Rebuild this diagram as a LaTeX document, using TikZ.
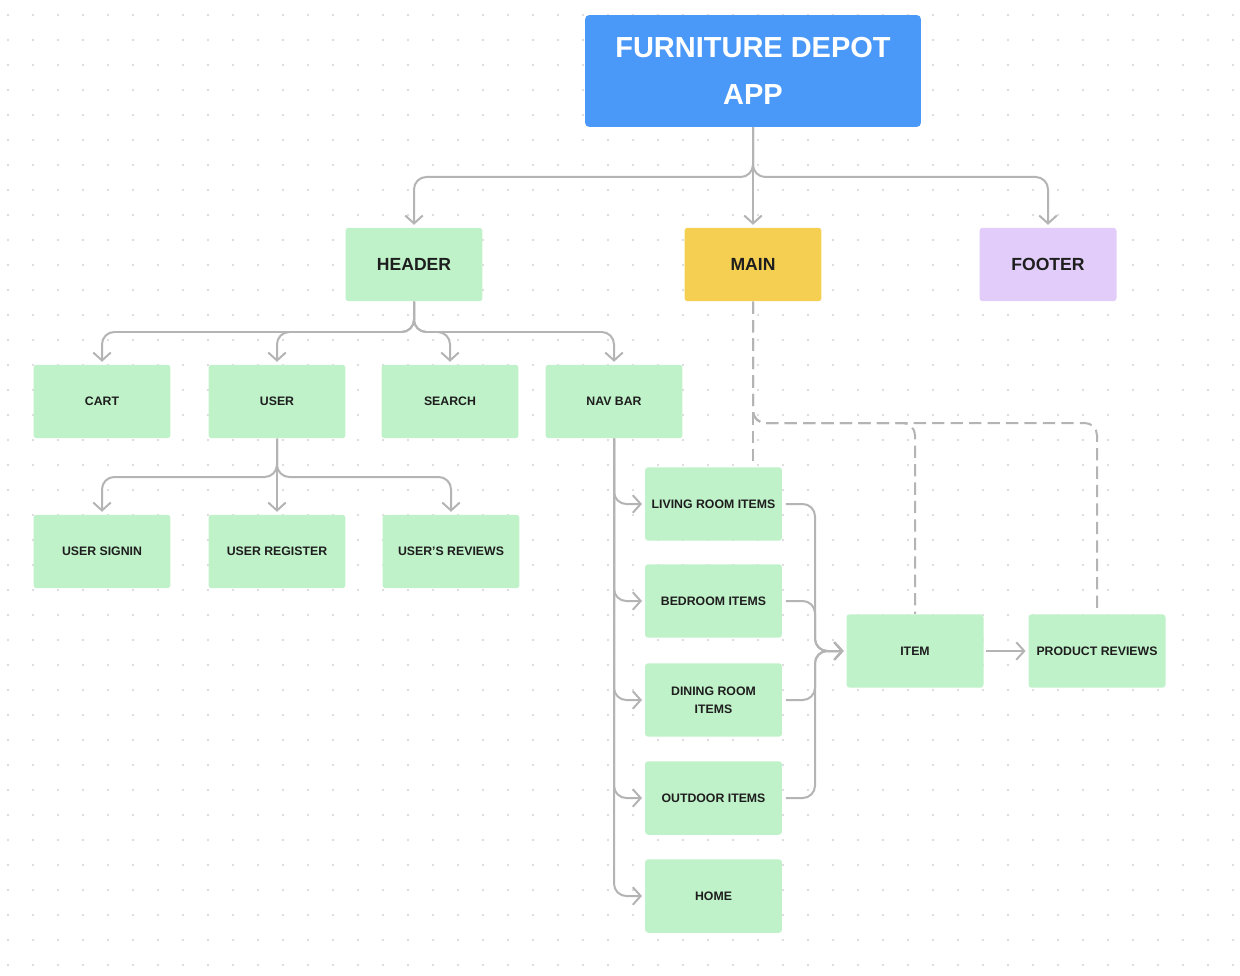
\documentclass[tikz,border=0pt]{standalone}
\usepackage{fontspec}
\setmainfont{Liberation Sans}
\usetikzlibrary{positioning}
\usetikzlibrary{arrows.meta}
\definecolor{appblue}{RGB}{74,152,247}
\definecolor{leaf}{RGB}{192,242,201}
\definecolor{sun}{RGB}{245,207,82}
\definecolor{lilac}{RGB}{226,205,250}
\definecolor{wire}{RGB}{180,180,180}
\definecolor{griddot}{RGB}{210,210,210}
\definecolor{ink}{RGB}{30,30,30}
\tikzset{
  box/.style={rectangle, rounded corners=1.8pt, fill=leaf, text=ink,
    minimum width=2.74cm, minimum height=1.47cm, inner sep=1pt, align=center,
    font=\bfseries\fontsize{7}{10.2}\selectfont},
  bigbox/.style={box, font=\bfseries\fontsize{10}{12}\selectfont},
  conn/.style={draw=wire, line width=0.04cm, rounded corners=7pt,
    -{Straight Barb[length=4.5pt,width=10pt]}, shorten >=1.5pt},
  dconn/.style={draw=wire, line width=0.04cm, rounded corners=7pt,
    dash pattern=on 7pt off 3.5pt},
}
\begin{document}
\begin{tikzpicture}[x=0.02cm,y=-0.02cm]
        %Background + dots
        \fill[white] (0,0) rectangle (1240,976);
        \useasboundingbox (0,0) rectangle (1240,976);
        \foreach \i in {0,...,49} \foreach \j in {0,...,38} \fill[griddot] (8+25*\i,15+25*\j) circle (0.6pt);
        %Boxes
        \node[box, fill=appblue, text=white, rounded corners=2.5pt, minimum width=6.72cm, minimum height=2.24cm,
          font=\bfseries\fontsize{16.5}{26.7}\selectfont] (app) at (753,71) {FURNITURE DEPOT\\APP};
        \node[bigbox] (header) at (414,264.5) {HEADER};
        \node[bigbox, fill=sun] (main) at (753,264.5) {MAIN};
        \node[bigbox, fill=lilac] (footer) at (1048,264.5) {FOOTER};
        \node[box] (cart) at (102,401.5) {CART};
        \node[box] (user) at (277,401.5) {USER};
        \node[box] (search) at (450,401.5) {SEARCH};
        \node[box] (navbar) at (614,401.5) {NAV BAR};
        \node[box] (signin) at (102,551.5) {USER SIGNIN};
        \node[box] (register) at (277,551.5) {USER REGISTER};
        \node[box] (userreviews) at (451,551.5) {USER'S REVIEWS};
        \node[box] (living) at (713.5,504) {LIVING ROOM ITEMS};
        \node[box] (bedroom) at (713.5,601) {BEDROOM ITEMS};
        \node[box] (dining) at (713.5,700) {DINING ROOM\\ITEMS};
        \node[box] (outdoor) at (713.5,798) {OUTDOOR ITEMS};
        \node[box] (home) at (713.5,896) {HOME};
        \node[box] (item) at (915,651) {ITEM};
        \node[box] (prodreviews) at (1097,651) {PRODUCT REVIEWS};
        %Forks
        \coordinate (appfork) at (753,177);
        \coordinate (headfork) at (414,332);
        \coordinate (userfork) at (277,477);
        \coordinate (itemjoin) at (815,651);
        \coordinate (mainfork) at (753,423);
        %Arrows
        \draw[conn] (app.south) -- (appfork) -| (header.north);
        \draw[conn] (app.south) -- (main.north);
        \draw[conn] (app.south) -- (appfork) -| (footer.north);
        \foreach \t in {cart,user,search,navbar} \draw[conn] (header.south) -- (headfork) -| (\t.north);
        \foreach \t in {signin,userreviews} \draw[conn] (user.south) -- (userfork) -| (\t.north);
        \draw[conn] (user.south) -- (register.north);
        \foreach \t in {living,bedroom,dining,outdoor,home} \draw[conn] (navbar.south) |- (\t.west);
        \foreach \t in {living,bedroom,dining,outdoor} \draw[conn] ([xshift=2pt]\t.east) -| (itemjoin) -- (item.west);
        \draw[conn] ([xshift=1pt]item.east) -- (prodreviews.west);
        %Dashed
        \draw[dconn] (main.south) -- (mainfork) -| (item.north);
        \draw[dconn] (main.south) -- (mainfork) -| (prodreviews.north);
        \draw[dconn] (main.south) -- (main.south |- living.north);
\end{tikzpicture}
\end{document}
